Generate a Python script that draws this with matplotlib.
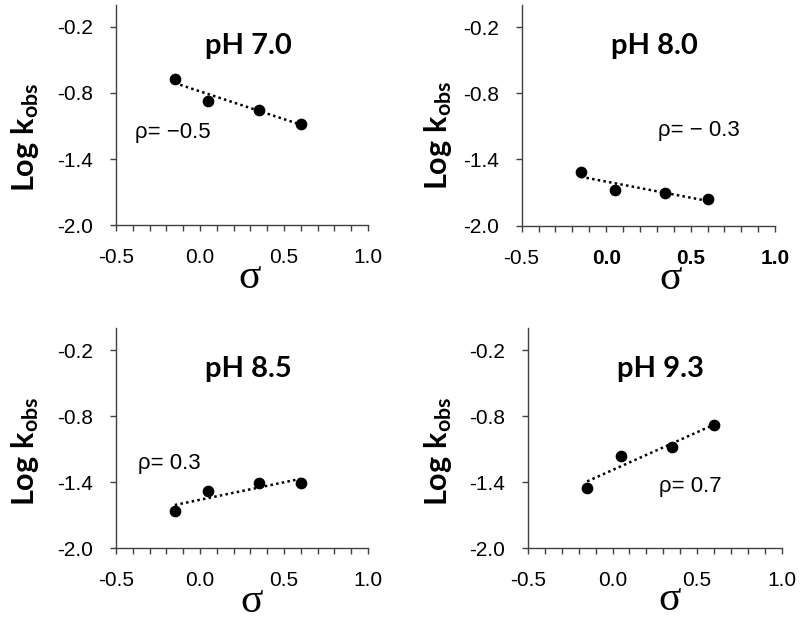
import numpy as np
import matplotlib
matplotlib.use("Agg")
import matplotlib.pyplot as plt

# ---- data ----
sigma = [-0.15, 0.05, 0.35, 0.60]
logk_ph70 = [-0.67, -0.87, -0.95, -1.08]
logk_ph80 = [-1.51, -1.68, -1.70, -1.76]
logk_ph85 = [-1.665, -1.48, -1.41, -1.41]
logk_ph93 = [-1.45, -1.16, -1.08, -0.88]
titles = ["pH 7.0", "pH 8.0", "pH 8.5", "pH 9.3"]
rho_labels = ["ρ= −0.5", "ρ= − 0.3", "ρ= 0.3", "ρ= 0.7"]
rho_pos = [(-0.387, -1.155), (0.308, -1.14), (-0.37, -1.23), (0.274, -1.44)]
xticks = [-0.5, 0.0, 0.5, 1.0]
xtick_labels = ["-0.5", "0.0", "0.5", "1.0"]
yticks = [-2.0, -1.4, -0.8, -0.2]
ytick_labels = ["-2.0", "-1.4", "-0.8", "-0.2"]
series = [logk_ph70, logk_ph80, logk_ph85, logk_ph93]

plt.rcParams["mathtext.fontset"] = "custom"
plt.rcParams["mathtext.rm"] = "Lato:bold"
plt.rcParams["mathtext.bf"] = "Lato:bold"
plt.rcParams["mathtext.it"] = "Lato:bold"

fig = plt.figure(figsize=(8, 6.2), dpi=100)
positions = [
    [0.145, 0.637, 0.315, 0.355],
    [0.652, 0.636, 0.317, 0.356],
    [0.145, 0.1156, 0.315, 0.355],
    [0.660, 0.1156, 0.317, 0.355],
]
sig_pos = [(0.53, -0.24), (0.586, -0.24), (0.538, -0.243), (0.558, -0.235)]
ylab_pos = [(-0.36, 0.40), (-0.33, 0.41), (-0.36, 0.44), (-0.355, 0.44)]
axis_col = "#404040"

for i, (pos, y) in enumerate(zip(positions, series)):
    ax = fig.add_axes(pos)
    ax.scatter(sigma, y, s=55, color="black", zorder=3)
    coef = np.polyfit(sigma, y, 1)
    xf = np.array([min(sigma), max(sigma)])
    ax.plot(xf, np.polyval(coef, xf), color="black", linestyle=(0, (1, 1.3)), lw=1.8)
    ax.set_xlim(-0.5, 1.0)
    ax.set_ylim(-2.0, 0.0)
    for s in ["top", "right"]:
        ax.spines[s].set_visible(False)
    for s in ["left", "bottom"]:
        ax.spines[s].set_color(axis_col)
        ax.spines[s].set_linewidth(1.0)
    ax.set_xticks(np.round(np.arange(-0.5, 1.001, 0.1), 2), minor=True)
    ax.set_xticks(xticks)
    ax.set_yticks(yticks)
    xlabs = ax.set_xticklabels(xtick_labels, fontsize=15, family="Liberation Sans")
    ax.set_yticklabels(ytick_labels, fontsize=15, family="Liberation Sans")
    if i == 1:
        for lab in xlabs[1:]:
            lab.set_fontweight("bold")
    ax.tick_params(axis="x", which="both", direction="out", length=4.5, width=1.0,
                   color=axis_col, pad=12)
    ax.tick_params(axis="y", which="major", direction="out", length=4.5, width=1.0,
                   color=axis_col, pad=12)
    ax.text(0.285, -0.37, titles[i], ha="center", va="center", fontsize=21,
            fontweight="bold", family="Lato")
    ax.text(rho_pos[i][0], rho_pos[i][1], rho_labels[i], ha="left", va="center",
            fontsize=16, family="Liberation Sans")
    ax.text(sig_pos[i][0], sig_pos[i][1], "σ", transform=ax.transAxes, ha="center",
            va="center", fontsize=30, family="Liberation Serif")
    ax.text(ylab_pos[i][0], ylab_pos[i][1], r"$\mathbf{Log\ k_{obs}}$", transform=ax.transAxes,
            ha="center", va="center", rotation=90, fontsize=22)

fig.savefig("out.png", dpi=100)
